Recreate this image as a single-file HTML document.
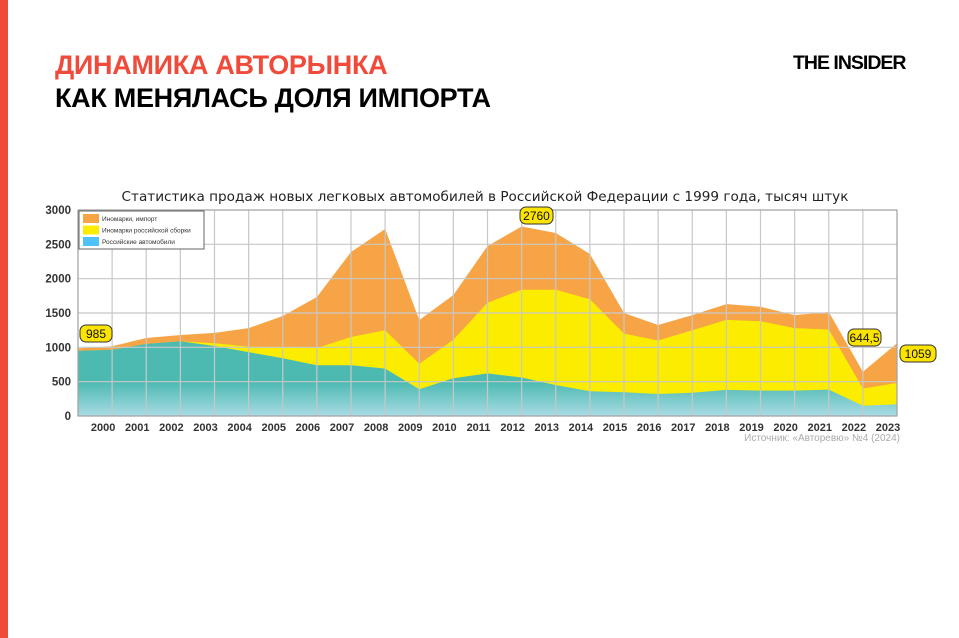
<!DOCTYPE html>
<html><head><meta charset="utf-8"><style>
body{margin:0;width:959px;height:638px;background:#fff;position:relative;overflow:hidden;font-family:"Liberation Sans",sans-serif}
.bar{position:absolute;left:0;top:0;width:8px;height:638px;background:#f04a3a}
.t1{position:absolute;left:55px;top:50px;font-size:27px;font-weight:bold;color:#f04a3a;letter-spacing:-0.3px}
.t2{position:absolute;left:55px;top:83px;font-size:27px;font-weight:bold;color:#000;letter-spacing:-0.3px}
.logo{position:absolute;left:793px;top:52px;font-size:19.5px;font-weight:bold;letter-spacing:-1px;color:#000}
</style></head><body>
<div class="bar"></div>
<div class="t1">ДИНАМИКА АВТОРЫНКА</div>
<div class="t2">КАК МЕНЯЛАСЬ ДОЛЯ ИМПОРТА</div>
<div class="logo">THE INSIDER</div>
<svg id="s" width="959" height="638" style="position:absolute;left:0;top:0">
<defs>
<linearGradient id="gt" x1="0" y1="0" x2="0" y2="1"><stop offset="0.55" stop-color="#4dbab2"/><stop offset="1" stop-color="#a9dbe4"/></linearGradient>
</defs>
<text x="485" y="201" text-anchor="middle" font-size="13.6" font-family="DejaVu Sans, sans-serif" fill="#222">Статистика продаж новых легковых автомобилей в Российской Федерации с 1999 года, тысяч штук</text>
<g id="g"></g>
</svg>
<script>
const L=78,R=897,T=210,B=416;
const X=i=>L+i*(R-L)/24, Y=v=>B-v*(B-T)/3000;
const tot=[985,1015,1136,1180,1210,1280,1456,1733,2388,2723,1398,1762,2476,2760,2665,2359,1500,1325,1470,1630,1590,1470,1515,644.5,1059];
const yel=[950,965,1050,1090,1060,1010,1000,990,1150,1250,760,1110,1650,1840,1840,1700,1200,1100,1250,1400,1380,1280,1260,400,480];
const tea=[950,965,1050,1090,1020,930,840,740,740,690,390,550,620,560,450,360,345,320,340,380,370,370,385,150,170];
let h='';
function area(a,c){let d='M'+X(0)+','+B;a.forEach((v,i)=>d+=' L'+X(i).toFixed(1)+','+Y(v).toFixed(1));d+=' L'+X(24)+','+B+' Z';return `<path d="${d}" fill="${c}"/>`;}
h+=area(tot,'#f7a446');h+=area(yel,'#fbec00');h+=area(tea,'url(#gt)');
for(let v=0;v<=3000;v+=500){h+=`<line x1="${L}" x2="${R}" y1="${Y(v)}" y2="${Y(v)}" stroke="#c8c8c8" stroke-width="1.2"/>`;
h+=`<text x="71" y="${Y(v)+4}" text-anchor="end" font-size="11.5" font-weight="bold" fill="#333" font-family="Liberation Sans Narrow, Liberation Sans, sans-serif">${v}</text>`;}
for(let i=0;i<=24;i++){h+=`<line x1="${X(i)}" x2="${X(i)}" y1="${T}" y2="${B}" stroke="#c8c8c8" stroke-width="1.2"/>`;
if(i>0)h+=`<text x="${X(i)-9}" y="431" text-anchor="middle" font-size="11" font-weight="bold" fill="#333" font-family="Liberation Sans Narrow, Liberation Sans, sans-serif">${1999+i}</text>`;}
h+=`<rect x="${L}" y="${T}" width="${R-L}" height="${B-T}" fill="none" stroke="#999" stroke-width="1"/>`;
h+=`<rect x="79" y="211" width="125" height="38" fill="#fff" stroke="#666"/>`;
[['#f7a446','Иномарки, импорт'],['#fbec00','Иномарки российской сборки'],['#4fc3f7','Российские автомобили']].forEach((e,k)=>{
h+=`<rect x="83" y="${214+k*11.5}" width="16" height="9" fill="${e[0]}"/><text x="102" y="${221+k*11.5}" font-size="6.5" fill="#333">${e[1]}</text>`;});
function lab(x,y,w,t){h+=`<rect x="${x}" y="${y}" width="${w}" height="17" rx="6" fill="#fbe400" stroke="#333"/><text x="${x+w/2}" y="${y+13}" text-anchor="middle" font-size="12" fill="#111">${t}</text>`;}
lab(80,325,32,'985');lab(520,207,33,'2760');lab(848,329,33,'644,5');lab(900,345,36,'1059');
h+=`<text x="900" y="441" text-anchor="end" font-size="10" fill="#aaa">Источник: «Авторевю» №4 (2024)</text>`;
document.getElementById('g').innerHTML=h;
</script>
</body></html>
